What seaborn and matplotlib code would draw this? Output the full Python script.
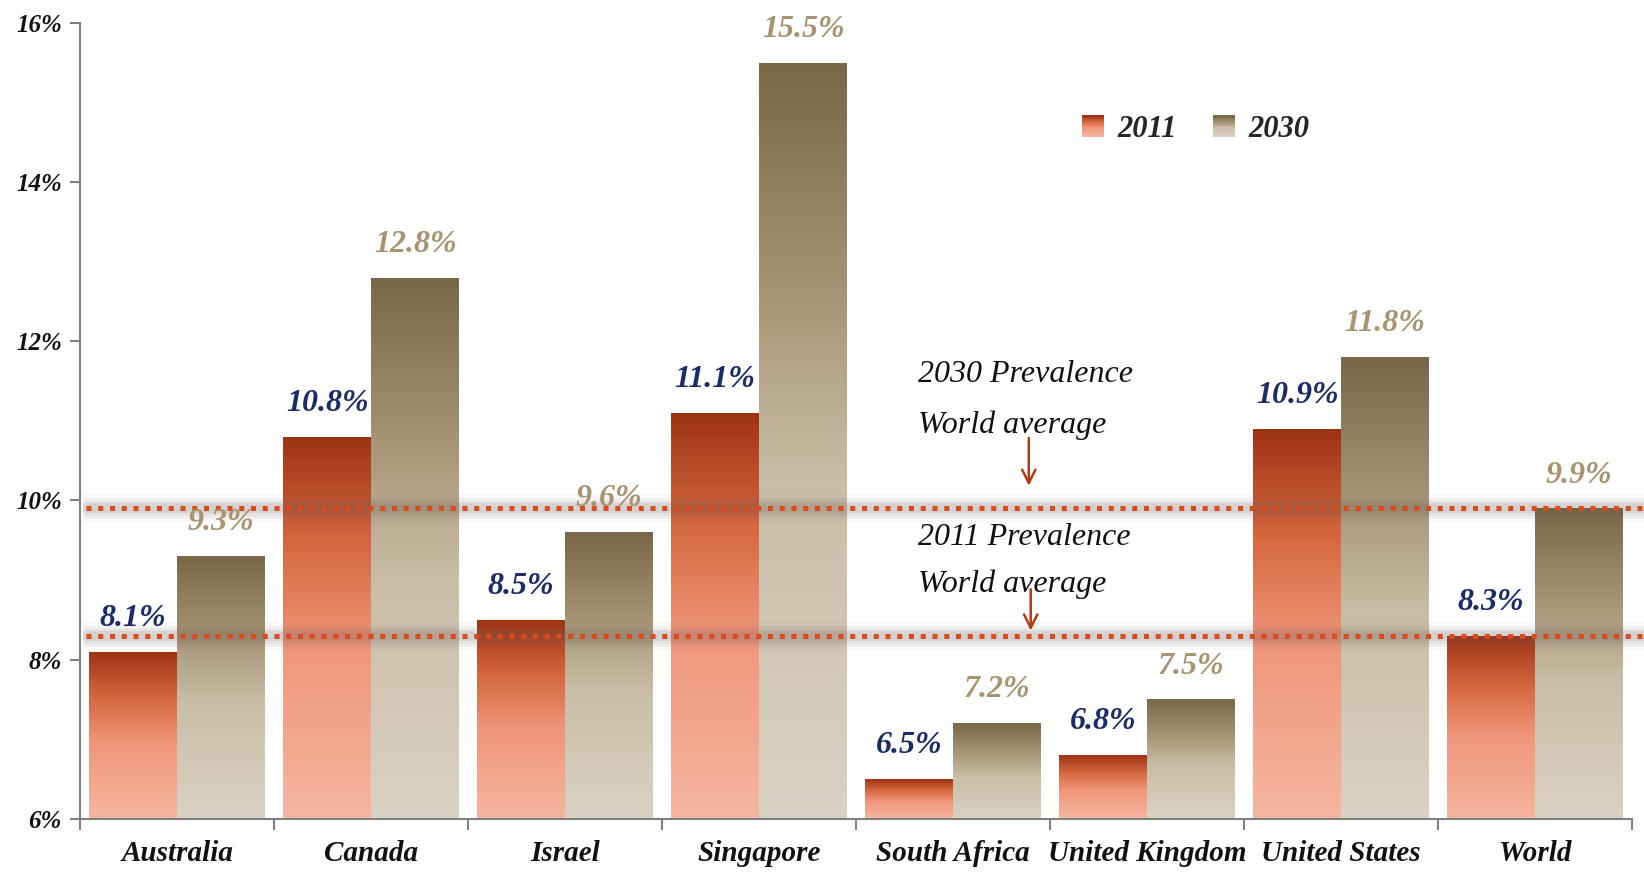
import numpy as np
import pandas as pd
import matplotlib
matplotlib.use("Agg")
import matplotlib.pyplot as plt
import seaborn as sns
from matplotlib.colors import LinearSegmentedColormap
from matplotlib.legend_handler import HandlerBase
from matplotlib.patches import Rectangle
import matplotlib.transforms as mtransforms

# ---------------- data ----------------
countries = ["Australia", "Canada", "Israel", "Singapore", "South Africa",
             "United Kingdom", "United States", "World"]
values_2011 = [8.1, 10.8, 8.5, 11.1, 6.5, 6.8, 10.9, 8.3]
values_2030 = [9.3, 12.8, 9.6, 15.5, 7.2, 7.5, 11.8, 9.9]
years = ["2011", "2030"]
world_avg_2011 = 8.3
world_avg_2030 = 9.9
y_ticks = [6, 8, 10, 12, 14, 16]
y_tick_labels = ["6%", "8%", "10%", "12%", "14%", "16%"]

df = pd.DataFrame({
    "country": countries * 2,
    "year": [years[0]] * len(countries) + [years[1]] * len(countries),
    "value": values_2011 + values_2030,
})

# ---------------- style ----------------
sns.set_theme(style="white")
plt.rcParams["font.family"] = ["Liberation Serif", "DejaVu Serif"]

cmap_2011 = LinearSegmentedColormap.from_list(
    "c2011", [(0.0, "#F5B6A0"), (0.45, "#F0967A"), (0.72, "#D6683F"), (1.0, "#9E3214")])
cmap_2030 = LinearSegmentedColormap.from_list(
    "c2030", [(0.0, "#DAD2C2"), (0.45, "#C9BDA6"), (0.72, "#A29171"), (1.0, "#786848")])
cmaps = {"2011": cmap_2011, "2030": cmap_2030}
label_colors = {"2011": "#1B2C6B", "2030": "#A8946F"}

fig = plt.figure(figsize=(16.44, 8.72), dpi=100)
ax = fig.add_axes([0.0487, 0.061, 0.9441, 0.9126])

sns.barplot(data=df, x="country", y="value", hue="year", hue_order=years,
            order=countries, width=0.907, palette=["#E07050", "#A89878"],
            legend=False, ax=ax, errorbar=None, saturation=1)

ymin, ymax = 6, 16
ax.set_ylim(ymin, ymax)
ax.set_xlim(-0.5, len(countries) - 0.5)

# gradient fill for each bar
grad = np.linspace(0, 1, 256).reshape(-1, 1)
for container, yr in zip(ax.containers, years):
    for patch in container.patches:
        x0 = patch.get_x()
        w = patch.get_width()
        top = patch.get_y() + patch.get_height()
        im = ax.imshow(grad, extent=[x0, x0 + w, ymin, top], origin="lower",
                       aspect="auto", cmap=cmaps[yr], zorder=2, interpolation="bicubic")
        im.set_clip_path(patch)
        patch.set_facecolor("none")
        patch.set_edgecolor("none")

ax.set_ylim(ymin, ymax)
ax.set_xlim(-0.5, len(countries) - 0.5)

# value labels
for container, yr in zip(ax.containers, years):
    for patch in container.patches:
        top = patch.get_y() + patch.get_height()
        ax.annotate(f"{top:.1f}%", (patch.get_x() + patch.get_width() / 2, top),
                    xytext=(0, 24), textcoords="offset points", ha="center", va="center",
                    fontsize=23, fontstyle="italic", fontweight="bold",
                    color=label_colors[yr], zorder=6)

# world average lines with soft shadow
trans = mtransforms.blended_transform_factory(ax.transAxes, ax.transData)
for yv in [world_avg_2030, world_avg_2011]:
    for lw, a in [(20, 0.04), (15, 0.06), (11, 0.08), (7, 0.12)]:
        ax.plot([0.002, 1.01], [yv, yv], transform=trans, color="#6E5A5A",
                lw=lw, alpha=a, solid_capstyle="butt", clip_on=False, zorder=4)
    ax.plot([0.004, 1.01], [yv, yv], transform=trans, color="#DA4A1C",
            lw=3.6, linestyle=(0, (1, 1.35)), dash_capstyle="butt",
            clip_on=False, zorder=5)

# annotations
ann_kw = dict(fontsize=23, fontstyle="italic", color="#111111", ha="left", va="center", zorder=6)
ax.text(3.82, 11.58, "2030 Prevalence", **ann_kw)
ax.text(3.82, 10.95, "World average", **ann_kw)
ax.text(3.82, 9.54, "2011 Prevalence", **ann_kw)
ax.text(3.82, 8.95, "World average", **ann_kw)
arrow_kw = dict(arrowstyle="->,head_length=0.8,head_width=0.4", color="#B83A14", lw=1.8)
ax.annotate("", xy=(4.39, 10.15), xytext=(4.39, 10.82), arrowprops=arrow_kw, zorder=6)
ax.annotate("", xy=(4.40, 8.33), xytext=(4.40, 8.92), arrowprops=arrow_kw, zorder=6)

# axes styling
for s in ["top", "right"]:
    ax.spines[s].set_visible(False)
for s in ["left", "bottom"]:
    ax.spines[s].set_color("#808080")
    ax.spines[s].set_linewidth(1.5)
    ax.spines[s].set_zorder(7)

ax.set_yticks(y_ticks)
ax.set_yticklabels(y_tick_labels, fontsize=18, fontstyle="italic", fontweight="bold")
ax.tick_params(axis="y", which="major", left=True, length=7, width=1.5, color="#808080",
               pad=6, labelcolor="#111111")
ax.set_xticks(range(len(countries)))
ax.set_xticklabels(countries, fontsize=21, fontstyle="italic", fontweight="bold")
ax.tick_params(axis="x", which="major", bottom=False, length=0, pad=15, labelcolor="#111111")
ax.set_xticks(np.arange(-0.5, len(countries), 1.0), minor=True)
ax.tick_params(axis="x", which="minor", bottom=True, length=8, width=1.5, color="#808080")
ax.set_xlabel("")
ax.set_ylabel("")


# legend with gradient swatches
class GradientHandler(HandlerBase):
    def __init__(self, cmap, n=24):
        super().__init__()
        self.cmap = cmap
        self.n = n

    def create_artists(self, legend, orig_handle, xdescent, ydescent, width, height,
                       fontsize, trans):
        size = min(width, height * 1.0)
        x0 = -xdescent + (width - size)
        y0 = -ydescent + (height - size) / 2
        arts = []
        for i in range(self.n):
            frac = i / (self.n - 1)
            r = Rectangle((x0, y0 + size * i / self.n), size, size / self.n + 0.3,
                          facecolor=self.cmap(frac), edgecolor="none", transform=trans)
            arts.append(r)
        return arts


h1 = Rectangle((0, 0), 1, 1)
h2 = Rectangle((0, 0), 1, 1)
leg = ax.legend([h1, h2], years, loc="center", bbox_to_anchor=(0.717, 0.866),
                ncol=2, frameon=False, handler_map={h1: GradientHandler(cmap_2011),
                                                    h2: GradientHandler(cmap_2030)},
                prop={"size": 22, "style": "italic", "weight": "bold"},
                handlelength=0.9, handletextpad=0.45, columnspacing=1.0)

fig.savefig("out.png", dpi=100, facecolor="white")
